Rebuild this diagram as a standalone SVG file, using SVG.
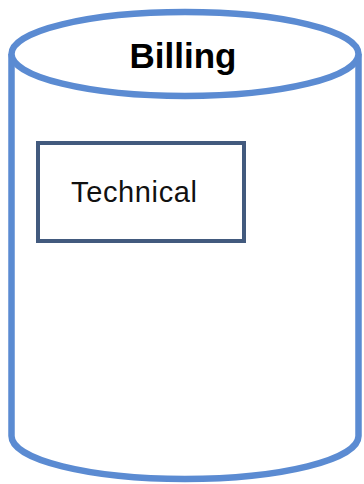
<svg xmlns="http://www.w3.org/2000/svg" width="364" height="484" viewBox="0 0 364 484">
  <style>
    .cyl { fill: #ffffff; stroke: #5B8BD2; stroke-width: 6.5; }
    .box { fill: #ffffff; stroke: #425A7E; stroke-width: 4; }
    .title { font-family: "Liberation Sans", Arial, sans-serif; font-weight: bold; font-size: 35px; fill: #000000; }
    .label { font-family: "Liberation Sans", Arial, sans-serif; font-size: 29px; fill: #111111; }
  </style>
  <rect width="364" height="484" fill="#ffffff"/>
  <g id="billing">
    <!-- cylinder body: straight sides and bottom arc -->
    <path class="cyl" d="M 11.5 54 L 11.5 436 A 173.5 43 0 0 0 358.5 436 L 358.5 54"/>
    <!-- cylinder top -->
    <ellipse class="cyl" cx="185" cy="54" rx="173.5" ry="42"/>
    <text class="title" x="183" y="68" text-anchor="middle">Billing</text>
  </g>
  <g id="technical">
    <rect class="box" x="38" y="143" width="206" height="98"/>
    <text class="label" x="71" y="202" textLength="126" lengthAdjust="spacing">Technical</text>
  </g>
</svg>
